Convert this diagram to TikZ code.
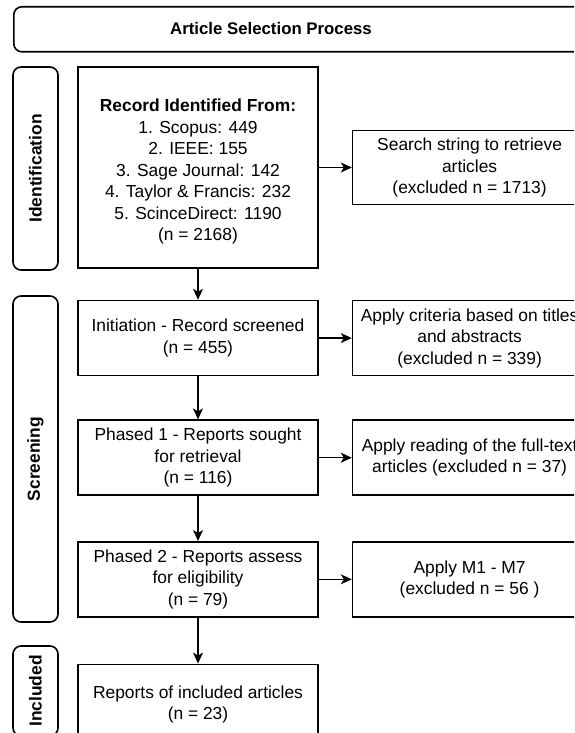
\documentclass[tikz,border=0pt]{standalone}
\usepackage{fontspec}
\setmainfont{Liberation Sans}
\usepackage{tikz}
\usetikzlibrary{arrows.meta}
\usetikzlibrary{positioning}
\newcommand{\prismafont}{\fontsize{17.4}{21.5}\selectfont}

\begin{document}
\begin{tikzpicture}[x=1pt, y=1pt, font=\prismafont,
 block/.style = {draw, rectangle, line width=1.6pt, minimum height=75pt, minimum width=240pt,
                 align=center, inner sep=2pt},
 exblock/.style = {block, minimum width=234pt},
 phase/.style = {draw, rectangle, rounded corners=8pt, line width=1.6pt, rotate=90,
                 minimum height=45pt, font=\prismafont\bfseries},
 flow/.style = {-{Stealth[length=11pt, width=10pt, inset=3pt]}, line width=1.3pt},
                        ]
    \useasboundingbox (0,0) rectangle (574,-733);
    \clip (0,0) rectangle (574,-733);

    % title bar
    \node [draw, rectangle, rounded corners=8pt, line width=1.6pt, minimum width=600pt,
           minimum height=45pt, anchor=north west] (titleBar) at (13,-6) {};
    \node at (271,-28.5) (titleText) {\fontsize{16.8}{20}\selectfont\bfseries Article Selection Process};

    % main column
    \node [block, minimum height=201pt] (record) at (198,-167.5) {};
    \node [align=center, yshift=-4pt] at (record) (recordText)
          {\textbf{Record Identified From:}\\1. Scopus: 449\\2. IEEE: 155\\3. Sage Journal: 142\\
           4. Taylor \& Francis: 232\\5. ScinceDirect: 1190\\(n = 2168)};
    \node [block, below=31pt of record] (screened) {Initiation - Record screened\\(n = 455)};
    \node [block, below=43pt of screened] (sought) {Phased 1 - Reports sought\\for retrieval\\(n = 116)};
    \node [block, below=45pt of sought] (eligible) {Phased 2 - Reports assess\\for eligibility\\(n = 79)};
    \node [block, minimum height=80pt, below=46pt of eligible] (included) {Reports of included articles\\(n = 23)};

    % excluded column
    \node [exblock, minimum height=74pt, right=33pt of record] (search) {Search string to retrieve\\articles\\(excluded n = 1713)};
    \node [exblock, right=33pt of screened] (criteria) {Apply criteria based on titles\\and abstracts\\(excluded n = 339)};
    \node [exblock, right=33pt of sought] (fulltext) {Apply reading of the full-text\\articles (excluded n = 37)};
    \node [exblock, right=33pt of eligible] (mcrit) {Apply M1 - M7\\(excluded n = 56 )};

    % phase labels
    \node [phase, minimum width=203pt] (identPhase) at (35.5,-168.5) {Identification};
    \node [phase, minimum width=326pt] (screenPhase) at (35.5,-459) {Screening};
    \node [phase, minimum width=90pt] (inclPhase) at (35.5,-691) {Included};

    \draw [flow] (record) -- (screened);
    \draw [flow] (screened) -- (sought);
    \draw [flow] (sought) -- (eligible);
    \draw [flow] (eligible) -- (included);
    \draw [flow] (record) -- (search);
    \draw [flow] (screened) -- (criteria);
    \draw [flow] (sought) -- (fulltext);
    \draw [flow] (eligible) -- (mcrit);

\end{tikzpicture}
\end{document}
